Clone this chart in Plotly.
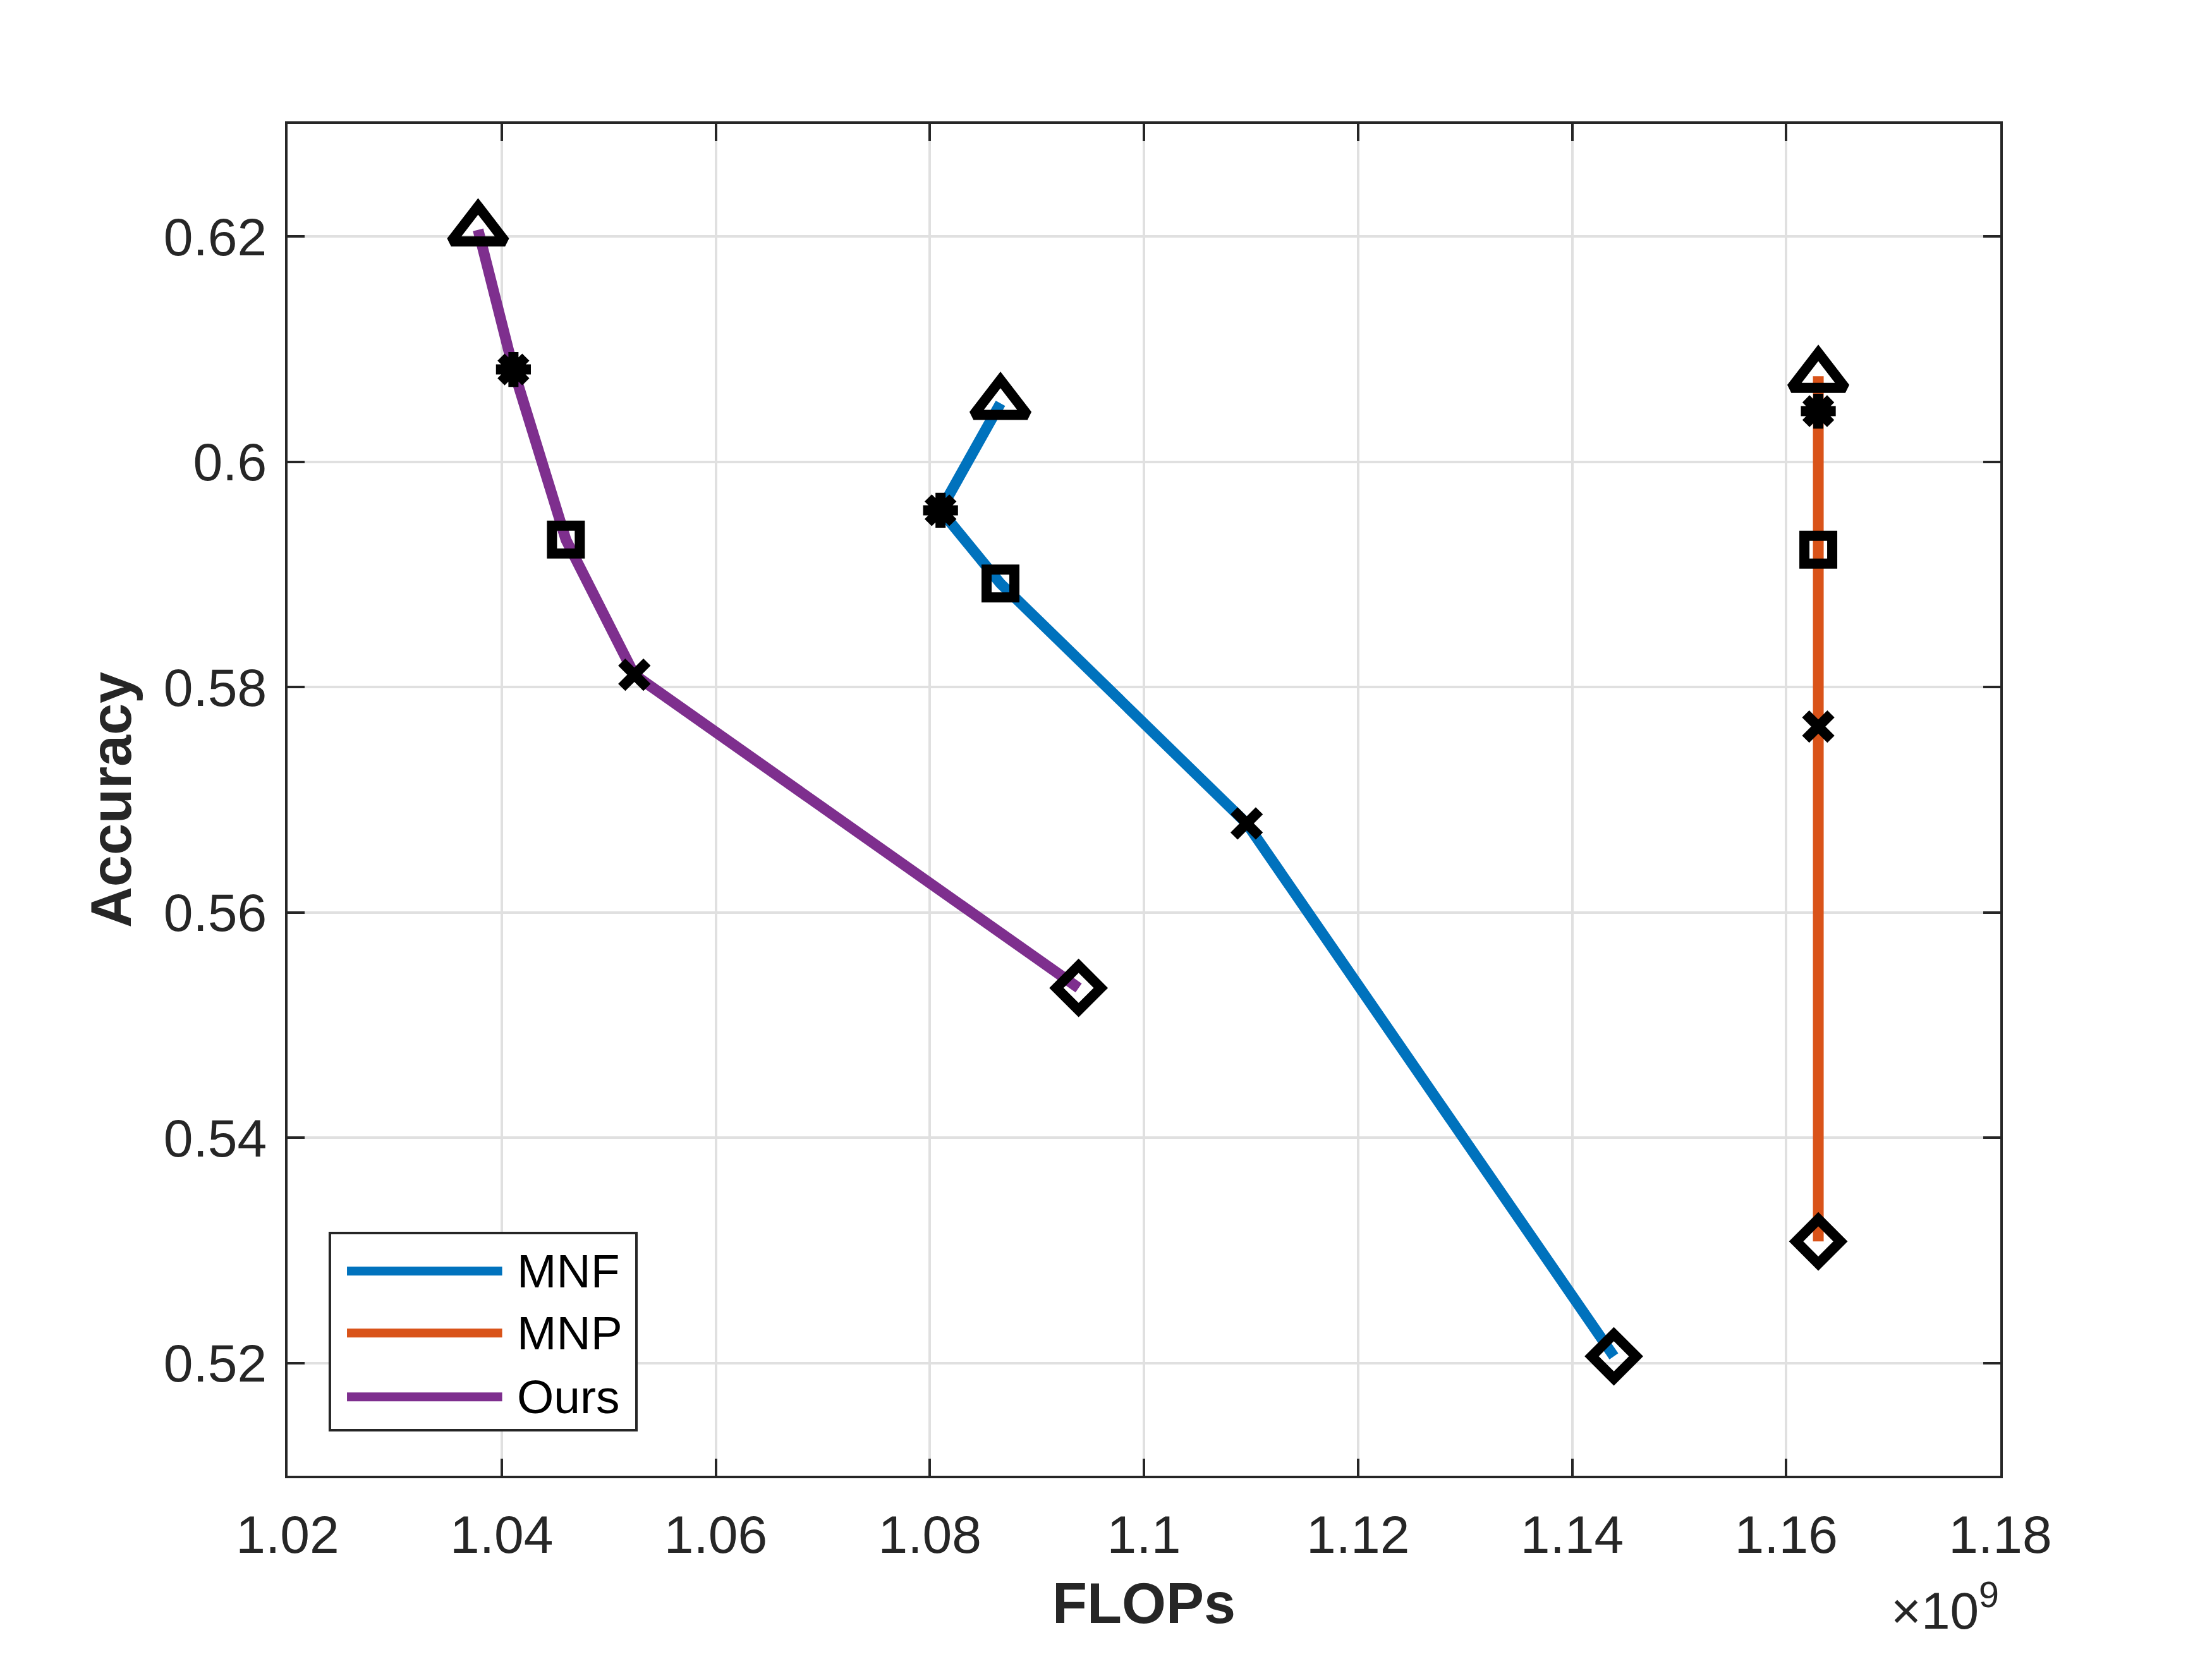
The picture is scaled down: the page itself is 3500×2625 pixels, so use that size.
import plotly.graph_objects as go

# series (x in FLOPs, y accuracy)
names = ["MNF", "MNP", "Ours"]
colors = ["#0072BD", "#D95319", "#7E2F8E"]

mnf_flops = [1.0866e9, 1.0810e9, 1.0866e9, 1.1096e9, 1.1439e9]
mnf_acc = [0.6052, 0.5957, 0.5892, 0.5679, 0.5206]

mnp_flops = [1.1630e9, 1.1630e9, 1.1630e9, 1.1630e9, 1.1630e9]
mnp_acc = [0.6076, 0.6045, 0.5922, 0.5765, 0.5308]

ours_flops = [1.0378e9, 1.0411e9, 1.0460e9, 1.0524e9, 1.0939e9]
ours_acc = [0.6206, 0.6082, 0.5931, 0.5811, 0.5533]

symbols = ["triangle-up-open", "asterisk-open", "square-open", "x-thin-open", "diamond-open"]
sizes = [74, 46, 44, 40, 54]

xticks = [1.02e9, 1.04e9, 1.06e9, 1.08e9, 1.10e9, 1.12e9, 1.14e9, 1.16e9, 1.18e9]
xticktext = ["1.02", "1.04", "1.06", "1.08", "1.1", "1.12", "1.14", "1.16", "1.18"]
yticks = [0.52, 0.54, 0.56, 0.58, 0.60, 0.62]
yticktext = ["0.52", "0.54", "0.56", "0.58", "0.6", "0.62"]

ink = "#262626"
font = "Liberation Sans, Arial, sans-serif"

fig = go.Figure()
for name, col, xs, ys in zip(names, colors,
                             [mnf_flops, mnp_flops, ours_flops],
                             [mnf_acc, mnp_acc, ours_acc]):
    fig.add_trace(go.Scatter(
        x=xs, y=ys, name=name, mode="lines+markers", showlegend=False,
        line=dict(color=col, width=17),
        marker=dict(symbol=symbols, size=sizes, color="black", opacity=1,
                    line=dict(color="black", width=16)),
    ))

axis_common = dict(
    showline=True, linecolor=ink, linewidth=4, mirror="allticks",
    ticks="inside", ticklen=27, tickwidth=4, tickcolor=ink,
    showgrid=True, gridcolor="#e0e0e0", gridwidth=4, zeroline=False,
    tickfont=dict(family=font, size=84, color=ink),
)

# page body keeps an 8px margin, so size the figure to fit inside it
fig.update_layout(
    width=3484, height=2609,
    margin=dict(l=447, r=327, t=188, b=282),
    paper_bgcolor="white", plot_bgcolor="white",
    font=dict(family=font, color=ink),
    xaxis=dict(range=[1.02e9, 1.18e9], tickvals=xticks, ticktext=xticktext,
               ticklabelstandoff=17,
               title=dict(text="<b>FLOPs</b>", font=dict(family=font, size=90, color=ink),
                          standoff=32),
               **axis_common),
    yaxis=dict(range=[0.51, 0.63], tickvals=yticks, ticktext=yticktext,
               ticklabelstandoff=12,
               title=dict(text="<b>Accuracy</b>", font=dict(family=font, size=90, color=ink),
                          standoff=22),
               **axis_common),
)

# exponent label under the x axis end
fig.add_annotation(xref="paper", yref="paper", x=1.0, y=-0.122, xanchor="right", yanchor="bottom",
                   text="×10<sup>9</sup>", showarrow=False,
                   font=dict(family=font, size=82, color=ink))

# legend box drawn like the original (long line samples)
fig.add_shape(type="rect", xref="paper", yref="paper", x0=0.0247, x1=0.2037, y0=0.0337, y1=0.1795,
              line=dict(color=ink, width=4), fillcolor="white", layer="above")
rows = [0.1513, 0.1055, 0.0583]
for name, col, yr in zip(names, colors, rows):
    fig.add_shape(type="line", xref="paper", yref="paper", x0=0.0347, x1=0.1253, y0=yr, y1=yr,
                  line=dict(color=col, width=14), layer="above")
    fig.add_annotation(xref="paper", yref="paper", x=0.1333, y=yr, xanchor="left", yanchor="middle",
                       text=name, showarrow=False, font=dict(family=font, size=75, color="black"))

fig.write_html("out.html")
